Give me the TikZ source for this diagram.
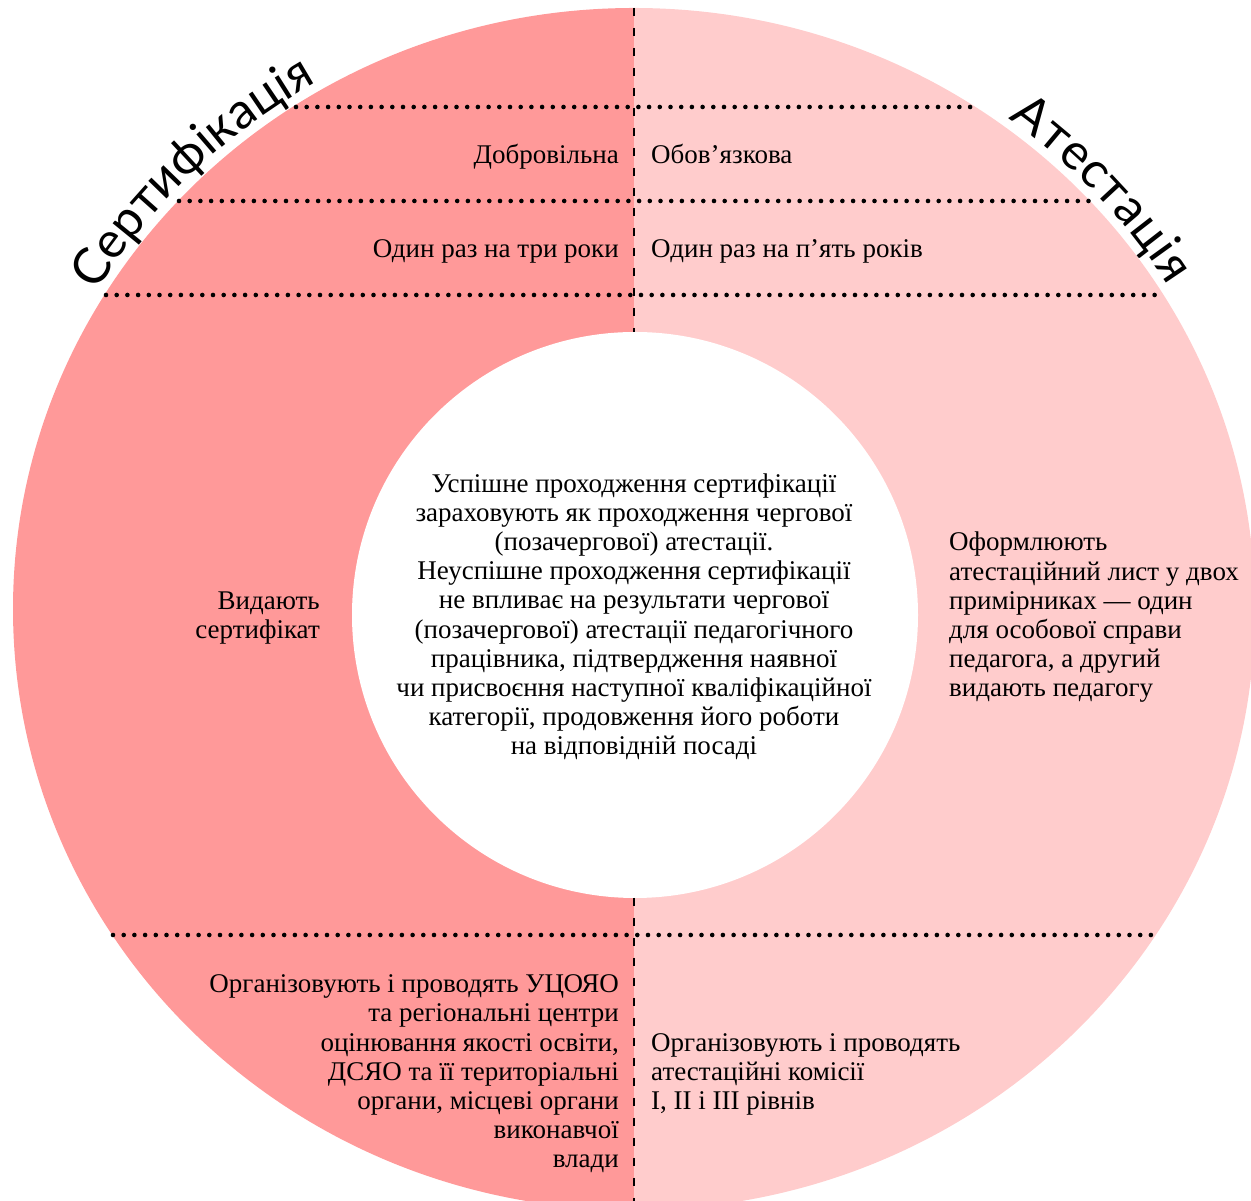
\documentclass[tikz,border=0pt]{standalone}
\usepackage{fontspec}
\setmainfont{Liberation Serif}
\newfontfamily\titlefont{Lato}
\usetikzlibrary{decorations.text,calc}
\definecolor{certpink}{HTML}{FF9999}
\definecolor{atestpink}{HTML}{FFCCCC}
\begin{document}
\begin{tikzpicture}[x=1pt,y=1pt,
  body/.style={font=\fontsize{27}{29.2}\selectfont, inner sep=0pt, text=black},
  dotline/.style={line width=4.6pt, line cap=round, dash pattern=on 0pt off 10.7pt},
  midline/.style={line width=2.6pt, dash pattern=on 8pt off 12pt},
  ]
\useasboundingbox (0,0) rectangle (1251,1201);
\coordinate (O) at (634,592);
\coordinate (I) at (635,586);
% halves of the outer disc
\begin{scope}
\clip (0,0) rectangle (634,1201);
\fill[certpink] (O) ellipse[x radius=621, y radius=601];
\end{scope}
\begin{scope}
\clip (634,0) rectangle (1260,1201);
\fill[atestpink] (O) ellipse[x radius=621, y radius=601];
\end{scope}
\fill[white] (I) circle[radius=283];
% dotted separators
\coordinate (d1l) at (296,1094); \coordinate (d1r) at (976,1094);
\coordinate (d2l) at (179,1000); \coordinate (d2r) at (1089,1000);
\coordinate (d3l) at (106,906);  \coordinate (d3r) at (1163,906);
\coordinate (d4l) at (113,266);  \coordinate (d4r) at (1155,266);
\draw[dotline] (d1l) -- (d1r);
\draw[dotline] (d2l) -- (d2r);
\draw[dotline] (d3l) -- (d3r);
\draw[dotline] (d4l) -- (d4r);
% vertical dashed divider
\coordinate (vt) at (634,1193); \coordinate (vit) at (634,869);
\coordinate (vib) at (634,303); \coordinate (vb) at (634,-9);
\draw[midline] (vt) -- (vit);
\draw[midline] (vib) -- (vb);
% titles along the rim
\path[decorate, decoration={text along path, text align=fit to path,
  text={|\titlefont\fontsize{50}{50}\selectfont|Сертифікація}}]
  ([shift={(148.6:630 and 610)}]O) arc[start angle=148.6, end angle=121, x radius=630, y radius=610];
\path[decorate, decoration={text along path, text align=fit to path,
  text={|\titlefont\fontsize{50}{50}\selectfont|Атестація}}]
  ([shift={(53.5:630 and 610)}]O) arc[start angle=53.5, end angle=32, x radius=630, y radius=610];
% texts
\node[body, anchor=base east] (vol) at (619,1037) {Добровільна};
\node[body, anchor=base west] (obl) at (651,1037) {Обов’язкова};
\node[body, anchor=base east] (three) at (619,943) {Один раз на три роки};
\node[body, anchor=base west] (five) at (651,943) {Один раз на п’ять років};
\node[body, anchor=base, align=center] (mid) at (634,446) {Успішне проходження сертифікації\\
зараховують як проходження чергової\\
(позачергової) атестації.\\
Неуспішне проходження сертифікації\\
не впливає на результати чергової\\
(позачергової) атестації педагогічного\\
працівника, підтвердження наявної\\
чи присвоєння наступної кваліфікаційної\\
категорії, продовження його роботи\\
на відповідній посаді};
\node[body, anchor=base east, align=right] (cert) at (320,562) {Видають\\сертифікат};
\node[body, anchor=base west, align=left] (list) at (949,504) {Оформлюють\\
атестаційний лист у двох\\
примірниках — один\\
для особової справи\\
педагога, а другий\\
видають педагогу};
\node[body, anchor=base east, align=right] (org1) at (619,33) {Організовують і проводять УЦОЯО\\
та регіональні центри\\
оцінювання якості освіти,\\
ДСЯО та її територіальні\\
органи, місцеві органи\\
виконавчої\\
влади};
\node[body, anchor=base west, align=left] (org2) at (651,91) {Організовують і проводять\\
атестаційні комісії\\
I, II і III рівнів};
\end{tikzpicture}
\end{document}
